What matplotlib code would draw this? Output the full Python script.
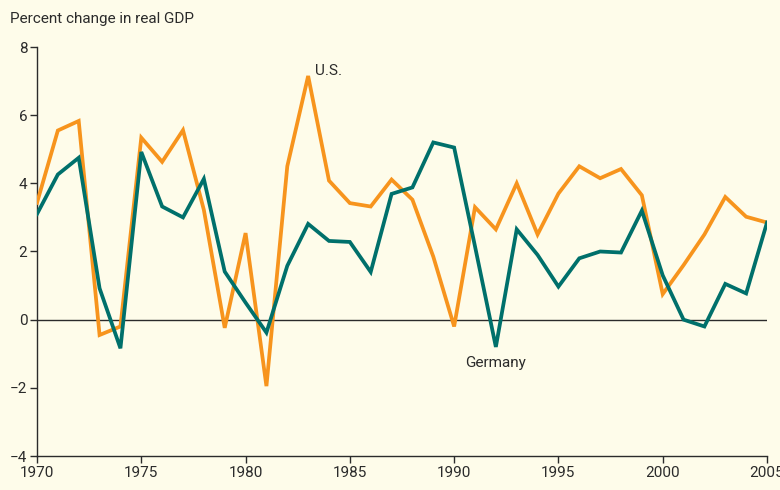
import matplotlib.pyplot as plt
from matplotlib import font_manager

BG, INK = "#fefcea", "#2b2b2b"
ORANGE, TEAL = "#f7941d", "#00706b"

years = list(range(1970, 2006))
us = [3.43, 5.55, 5.83, -0.45, -0.2, 5.34, 4.63, 5.56, 3.22, -0.24,
      2.54, -1.95, 4.5, 7.15, 4.08, 3.42, 3.32, 4.11, 3.52, 1.85,
      -0.2, 3.3, 2.65, 4.0, 2.5, 3.7, 4.5, 4.15, 4.42, 3.65,
      0.75, 1.6, 2.5, 3.6, 3.02, 2.85]
germany = [3.1, 4.26, 4.75, 0.92, -0.84, 4.92, 3.32, 3.0, 4.13, 1.41,
           0.5, -0.38, 1.58, 2.81, 2.31, 2.28, 1.4, 3.69, 3.88, 5.2,
           5.05, 2.15, -0.8, 2.65, 1.9, 0.97, 1.8, 2.0, 1.97, 3.2,
           1.3, 0.0, -0.2, 1.05, 0.77, 2.85]
xticks = [1970, 1975, 1980, 1985, 1990, 1995, 2000, 2005]
yticks = [-4, -2, 0, 2, 4, 6, 8]

names = {f.name for f in font_manager.fontManager.ttflist}
FONT = "Liberation Sans Narrow" if "Liberation Sans Narrow" in names else "Roboto"
plt.rcParams["font.family"] = [FONT, "DejaVu Sans"]

fig = plt.figure(figsize=(7.8, 4.9), dpi=100)
fig.patch.set_facecolor(BG)
ax = fig.add_axes([37 / 780, 34 / 490, 730 / 780, 409 / 490])
ax.set_facecolor(BG)

ax.axhline(0, color=INK, linewidth=1.0, zorder=1)
ax.plot(years, us, color=ORANGE, linewidth=2.7, zorder=3,
        solid_joinstyle="miter")
ax.plot(years, germany, color=TEAL, linewidth=2.7, zorder=4,
        solid_joinstyle="miter")

ax.text(1983.35, 7.3, "U.S.", fontsize=11, color=INK, va="center")
ax.text(1992.0, -1.27, "Germany", fontsize=11, color=INK,
        va="center", ha="center")

ax.set_xlim(1970, 2005)
ax.set_ylim(-4, 8)
ax.set_xticks(xticks)
ax.set_yticks(yticks)
ax.set_yticklabels([str(t).replace("-", "\u2212") for t in yticks])
ax.tick_params(direction="out", length=5, width=1, colors=INK,
               labelsize=11, pad=2)
for side in ("top", "right"):
    ax.spines[side].set_visible(False)
for side in ("left", "bottom"):
    ax.spines[side].set_color(INK)
    ax.spines[side].set_linewidth(1)

fig.text(10 / 780, 1 - 19 / 490, "Percent change in real GDP",
         fontsize=11, color=INK, va="center", ha="left")

fig.savefig("out.png", facecolor=BG)
